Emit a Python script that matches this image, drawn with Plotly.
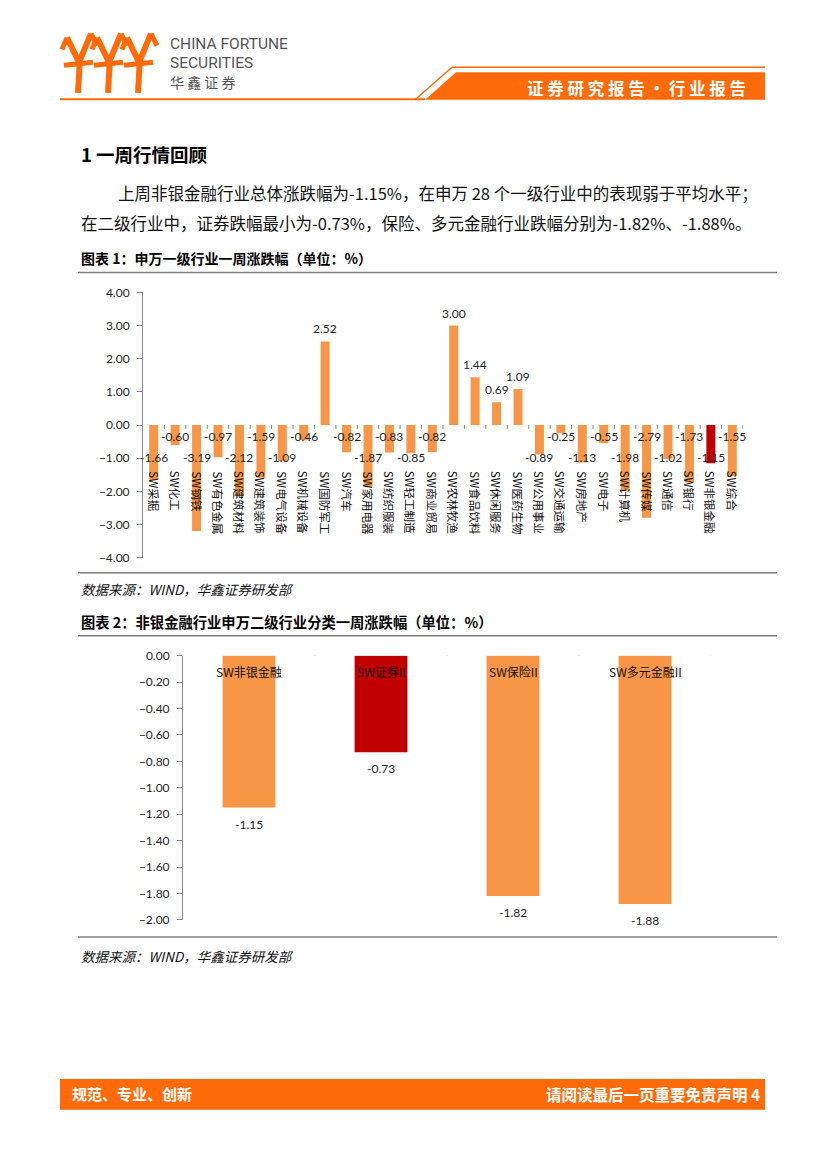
import plotly.graph_objects as go

W, H = 827, 1169

# ---------------- data ----------------
industries = ["SW采掘", "SW化工", "SW钢铁", "SW有色金属", "SW建筑材料", "SW建筑装饰", "SW电气设备",
              "SW机械设备", "SW国防军工", "SW汽车", "SW家用电器", "SW纺织服装", "SW轻工制造", "SW商业贸易",
              "SW农林牧渔", "SW食品饮料", "SW休闲服务", "SW医药生物", "SW公用事业", "SW交通运输", "SW房地产",
              "SW电子", "SW计算机", "SW传媒", "SW通信", "SW银行", "SW非银金融", "SW综合"]
industry_changes = [-1.66, -0.60, -3.19, -0.97, -2.12, -1.59, -1.09, -0.46, 2.52, -0.82, -1.87, -0.83,
                    -0.85, -0.82, 3.00, 1.44, 0.69, 1.09, -0.89, -0.25, -1.13, -0.55, -1.98, -2.79,
                    -1.02, -1.73, -1.15, -1.55]
highlight_industry = "SW非银金融"

sub_industries = ["SW非银金融", "SW证券II", "SW保险II", "SW多元金融II"]
sub_changes = [-1.15, -0.73, -1.82, -1.88]
highlight_sub = "SW证券II"

y1_ticks = [4, 3, 2, 1, 0, -1, -2, -3, -4]
y2_ticks = [0, -0.2, -0.4, -0.6, -0.8, -1.0, -1.2, -1.4, -1.6, -1.8, -2.0]

ORANGE = "#F79646"
DARKRED = "#C00000"
BRAND = "#FF6A0A"
AXIS = "#868686"
TXT = "#262626"
NUMFONT = "Lato, Liberation Sans, sans-serif"
CJK = "Noto Sans CJK SC, sans-serif"


def px(x):
    return x / W


def py(y):
    return 1 - y / H


fig = go.Figure()

# ---------------- chart 1 ----------------
idx1 = list(range(len(industries)))
fig.add_trace(go.Bar(
    x=idx1, y=industry_changes, width=0.42,
    marker=dict(color=[DARKRED if n == highlight_industry else ORANGE for n in industries], line=dict(width=0)),
    xaxis="x", yaxis="y", showlegend=False, hoverinfo="skip"))

# ---------------- chart 2 ----------------
idx2 = list(range(len(sub_industries)))
fig.add_trace(go.Bar(
    x=idx2, y=sub_changes, width=0.4,
    marker=dict(color=[DARKRED if n == highlight_sub else ORANGE for n in sub_industries], line=dict(width=0)),
    xaxis="x2", yaxis="y2", showlegend=False, hoverinfo="skip"))

annotations = []
shapes = []

# chart 1 data labels (alternating positions below zero for negatives)
for i, v in enumerate(industry_changes):
    txt = f"{v:.2f}"
    if v >= 0:
        annotations.append(dict(x=i, y=v, xref="x", yref="y", text=txt, showarrow=False,
                                yanchor="bottom", yshift=3, font=dict(family=NUMFONT, size=12, color=TXT)))
    else:
        shift = -32 if i % 2 == 0 else -11
        annotations.append(dict(x=i, y=0, xref="x", yref="y", text=txt, showarrow=False,
                                yanchor="middle", yshift=shift, font=dict(family=NUMFONT, size=12, color=TXT)))
    # vertical category labels
    annotations.append(dict(x=i, y=py(467), xref="x", yref="paper", text=industries[i], showarrow=False,
                            textangle=90, yanchor="top", xanchor="center",
                            font=dict(family=CJK, size=11.5, color="#111111")))
    # category boundary ticks on zero axis
    shapes.append(dict(type="line", xref="x", yref="y", x0=i + 0.5, x1=i + 0.5, ysizemode="pixel",
                       yanchor=0, y0=0, y1=-4, line=dict(color=AXIS, width=1)))

# chart 2 labels
for i, (n, v) in enumerate(zip(sub_industries, sub_changes)):
    annotations.append(dict(x=i, y=0, xref="x2", yref="y2", text=n, showarrow=False, yanchor="middle",
                            yshift=-16, font=dict(family=CJK, size=12, color="#111111")))
    annotations.append(dict(x=i, y=v, xref="x2", yref="y2", text=f"{v:.2f}", showarrow=False,
                            yanchor="top", yshift=-7, font=dict(family=NUMFONT, size=12, color=TXT)))
    shapes.append(dict(type="line", xref="x2", yref="y2", x0=i + 0.5, x1=i + 0.5, ysizemode="pixel",
                       yanchor=0, y0=0, y1=4, line=dict(color=AXIS, width=1)))

# ---------------- page decoration ----------------
def ptext(x, y, text, size, color="#111111", family=CJK, xanchor="left", bold=False, italic=False):
    t = text
    if bold:
        t = f"<b>{t}</b>"
    if italic:
        t = f"<i>{t}</i>"
    annotations.append(dict(x=px(x), y=py(y), xref="paper", yref="paper", text=t, showarrow=False,
                            xanchor=xanchor, yanchor="middle", font=dict(family=family, size=size, color=color)))


def pline(x0, y0, x1, y1, color, width):
    shapes.append(dict(type="line", xref="paper", yref="paper", x0=px(x0), y0=py(y0), x1=px(x1), y1=py(y1),
                       line=dict(color=color, width=width)))


def ppath(points, fill, line_color=None, width=0):
    d = "M " + " L ".join(f"{px(a):.5f},{py(b):.5f}" for a, b in points) + " Z"
    shapes.append(dict(type="path", xref="paper", yref="paper", path=d, fillcolor=fill,
                       line=dict(color=line_color or fill, width=width)))


# logo: stylised torch figures
for cx in (78, 108, 138):
    pline(cx, 86, cx + 2, 50, BRAND, 6)
    pline(cx - 14, 58, cx + 15, 55, BRAND, 5)
    pline(cx + 1, 55, cx - 11, 30, BRAND, 6)
    pline(cx + 1, 55, cx + 13, 26, BRAND, 6)
    pline(cx - 11, 30, cx - 16, 42, BRAND, 5)
    pline(cx + 13, 26, cx + 19, 38, BRAND, 5)
ptext(168, 36, "CHINA FORTUNE", 15.5, "#555555", "Roboto, sans-serif")
ptext(168, 56, "SECURITIES", 15.5, "#555555", "Roboto, sans-serif")
ptext(168, 75, "华 鑫 证 券", 14, "#555555")

# banner
pline(60, 92.5, 425, 92.5, BRAND, 2)
pline(452, 60, 765, 60, BRAND, 1.5)
pline(452, 60, 415, 93, BRAND, 1.5)
ppath([(456, 65), (765, 65), (765, 93), (425, 93)], BRAND)
ptext(636, 81, "证 券 研 究 报 告 · 行 业 报 告", 16.5, "white", CJK, "center", bold=True)

# headings and text
ptext(79, 148, "1 一周行情回顾", 18.5, "#000000", bold=True)
ptext(116, 187, "上周非银金融行业总体涨跌幅为-1.15%，在申万 28 个一级行业中的表现弱于平均水平；", 16.5, "#111111")
ptext(79, 218, "在二级行业中，证券跌幅最小为-0.73%，保险、多元金融行业跌幅分别为-1.82%、-1.88%。", 16.5, "#111111")
ptext(79, 253, "图表 1：申万一级行业一周涨跌幅（单位：%）", 14, "#000000", bold=True)
pline(78, 268, 777, 268, "#7F7F7F", 1.5)
pline(78, 572, 777, 572, "#7F7F7F", 1.5)
ptext(79, 589, "数据来源：WIND，华鑫证券研发部", 13.5, "#111111", italic=True)
ptext(79, 621, "图表 2：非银金融行业申万二级行业分类一周涨跌幅（单位：%）", 14.3, "#000000", bold=True)
pline(78, 636, 777, 636, "#7F7F7F", 1.5)
pline(78, 941, 777, 941, "#7F7F7F", 1.5)
ptext(79, 960, "数据来源：WIND，华鑫证券研发部", 13.5, "#111111", italic=True)

# footer
ppath([(60, 1085), (765, 1085), (765, 1116), (60, 1116)], BRAND)
ptext(70, 1100, "规范、专业、创新", 15, "white", bold=True)
ptext(762, 1100, "请阅读最后一页重要免责声明 4", 15.5, "white", xanchor="right", bold=True)

yaxis_common = dict(showgrid=False, zeroline=False, showline=True, linecolor=AXIS, linewidth=1,
                    ticks="outside", ticklen=5, tickcolor=AXIS, tickformat=".2f",
                    tickfont=dict(family=NUMFONT, size=12, color=TXT), ticklabelstandoff=5)

fig.update_layout(
    width=W, height=H, margin=dict(l=0, r=0, t=0, b=0),
    paper_bgcolor="white", plot_bgcolor="rgba(0,0,0,0)",
    bargap=0.5,
    xaxis=dict(domain=[px(143), px(743)], range=[-0.5, len(industries) - 0.5], showticklabels=False,
               showgrid=False, zeroline=False, showline=False, ticks="", anchor="y"),
    yaxis=dict(domain=[py(557), py(288)], range=[-4.002, 4.002], tickvals=y1_ticks, anchor="x", **yaxis_common),
    xaxis2=dict(domain=[px(183), px(711)], range=[-0.5, len(sub_industries) - 0.5], showticklabels=False,
                showgrid=False, zeroline=False, showline=False, ticks="", anchor="y2"),
    yaxis2=dict(domain=[py(924), py(656)], range=[-2.002, 0.001], tickvals=y2_ticks, anchor="x2", **yaxis_common),
    annotations=annotations, shapes=shapes,
)

fig.write_html("out.html", config={"displayModeBar": False},
               post_script="document.body.style.margin='0';document.body.style.padding='0';")
